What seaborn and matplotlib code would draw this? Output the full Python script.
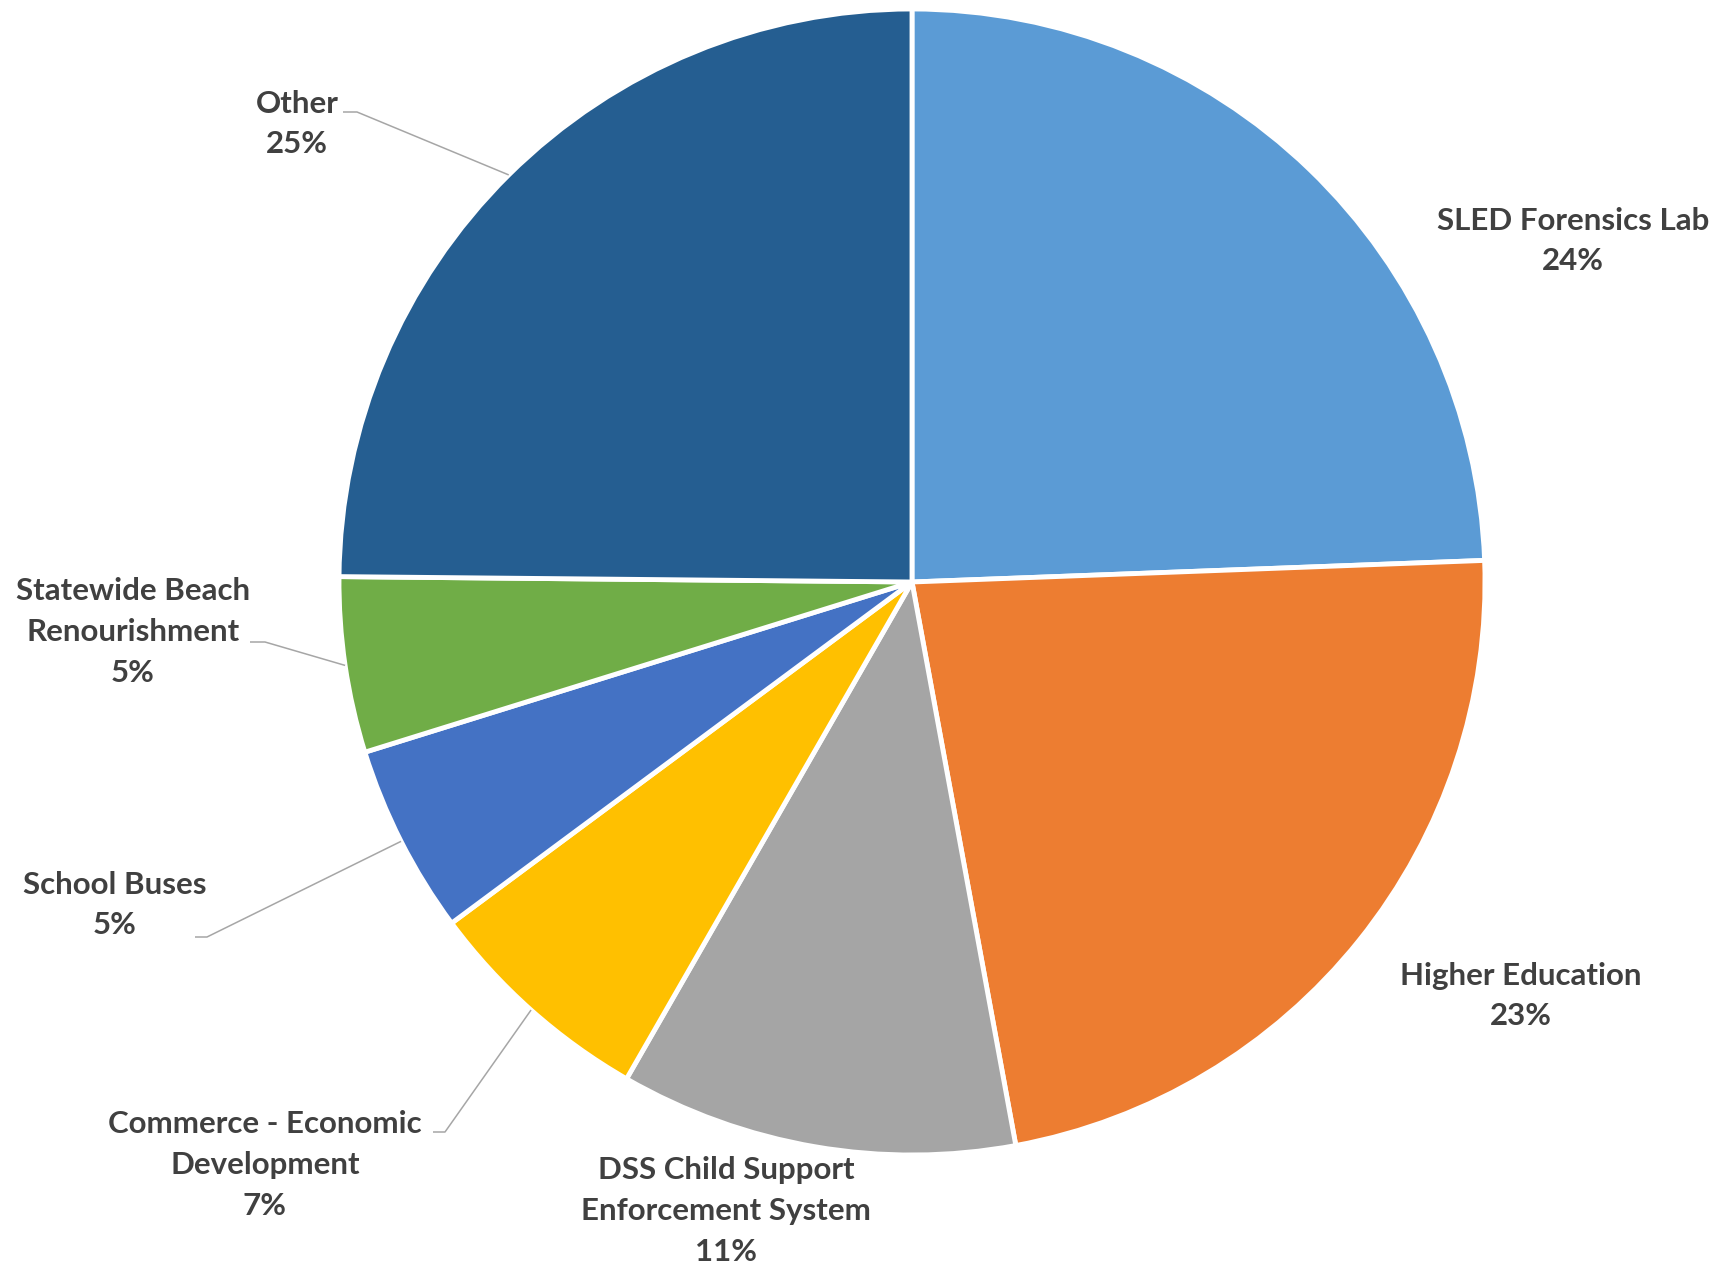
import matplotlib
matplotlib.use("Agg")
import matplotlib.pyplot as plt
import seaborn as sns
import numpy as np

categories = ["SLED Forensics Lab", "Higher Education", "DSS Child Support\nEnforcement System",
              "Commerce - Economic\nDevelopment", "School Buses", "Statewide Beach\nRenourishment", "Other"]
values = [24.4, 22.7, 11.2, 6.55, 5.35, 4.95, 24.85]
colors = ["#5B9BD5", "#ED7D31", "#A5A5A5", "#FFC000", "#4472C4", "#70AD47", "#255E91"]

sns.set_theme(style="white")
plt.rcParams['font.family'] = ['Lato', 'DejaVu Sans']

W, H = 1725, 1269
cx, cy, R = 912, 582, 573

fig = plt.figure(figsize=(W / 100, H / 100), dpi=100)
ax = fig.add_axes([0, 0, 1, 1])
wedges, _ = ax.pie(values, colors=colors, startangle=90, counterclock=False,
                   radius=1, center=(0, 0),
                   wedgeprops=dict(edgecolor="white", linewidth=3.5))
ax.set_xlim(-cx / R, (W - cx) / R)
ax.set_ylim(-(H - cy) / R, cy / R)
ax.set_aspect("auto")
ax.axis("off")

def px(x, y):
    return ((x - cx) / R, (cy - y) / R)

# label block centers (pixel layout) and optional leader elbows
label_pos = [(1573, 241), (1521, 996), (726, 1211), (265, 1165), (115, 905), (133, 632), (297, 124)]
leaders = {
    3: [(445, 1132), (433, 1132)],
    4: [(207, 937), (195, 937)],
    5: [(265, 642), (250, 642)],
    6: [(357, 112), (343, 112)],
}

total = sum(values)
text_color = "#404040"
for i, (w, cat, v) in enumerate(zip(wedges, categories, values)):
    pct = f"{v / total * 100:.0f}%"
    x, y = px(*label_pos[i])
    ax.text(x, y, f"{cat}\n{pct}", ha="center", va="center", multialignment="center",
            fontsize=22.5, fontweight="bold", color=text_color, linespacing=1.55)
    if i in leaders:
        mid = np.deg2rad((w.theta1 + w.theta2) / 2)
        pts = [(np.cos(mid), np.sin(mid))] + [px(*p) for p in leaders[i]]
        xs, ys = zip(*pts)
        ax.plot(xs, ys, color="#A6A6A6", linewidth=1.1, solid_capstyle="butt")

fig.savefig("out.png", dpi=100, facecolor="white")
